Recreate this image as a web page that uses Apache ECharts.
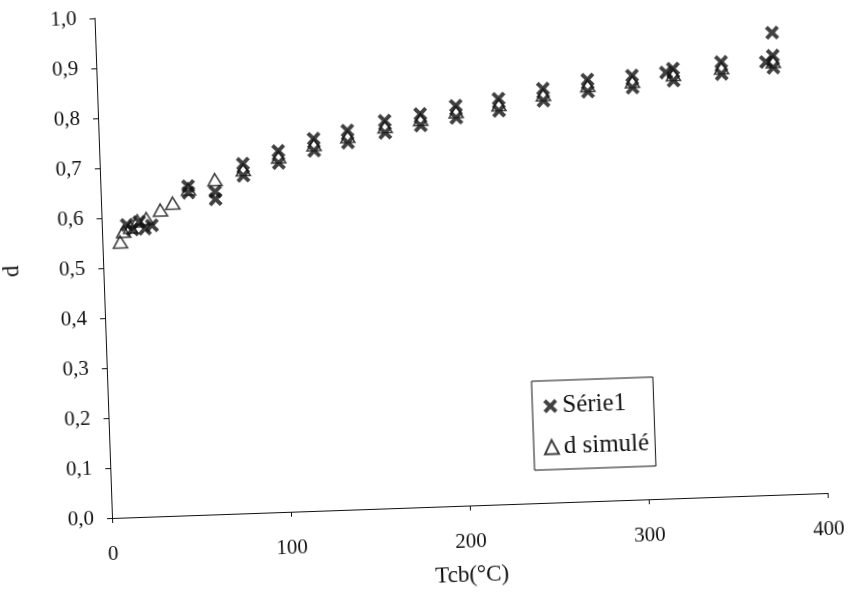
<!DOCTYPE html>
<html>
<head>
<meta charset="utf-8">
<title>d = f(Tcb)</title>
<script src="https://cdn.jsdelivr.net/npm/echarts@6/dist/echarts.min.js"></script>
<style>
  html, body { margin: 0; padding: 0; background: #fff; }
  #main {
    width: 851px;
    height: 612px;
    /* the scanned figure is tilted about 2 degrees */
    transform: rotate(-2deg);
    transform-origin: 112px 518px;
  }
</style>
</head>
<body>
<div id="main"></div>
<script>
// Série1 (measured points, x marks)
const tcbMeasured = [14, 17, 21, 24, 28, 49, 49, 64, 64, 80, 80, 100, 100, 120, 120, 139, 139,
  160, 160, 180, 180, 200, 200, 224, 224, 249, 249, 274, 274, 299, 299, 318, 322, 322,
  349, 349, 374, 378, 378, 378];
const dMeasured = [0.585, 0.575, 0.59, 0.576, 0.582, 0.658, 0.645, 0.645, 0.630, 0.699, 0.675,
  0.722, 0.698, 0.744, 0.720, 0.758, 0.734, 0.775, 0.751, 0.786, 0.763, 0.800, 0.776,
  0.811, 0.787, 0.828, 0.804, 0.843, 0.819, 0.848, 0.824, 0.852, 0.859, 0.835,
  0.869, 0.845, 0.866, 0.878, 0.854, 0.924];

// d simulé (triangles)
const tcbSimulated = [10, 12, 16, 20, 25, 33, 40, 49, 64, 80, 100, 120, 139, 160, 180, 200,
  224, 249, 274, 299, 322, 349, 378];
const dSimulated = [0.551, 0.572, 0.58, 0.592, 0.596, 0.612, 0.625, 0.652, 0.669, 0.687, 0.710,
  0.732, 0.746, 0.763, 0.775, 0.788, 0.799, 0.816, 0.831, 0.836, 0.847, 0.857, 0.866];

const xTicks = [0, 100, 200, 300, 400];
const seriesNames = ['Série1', 'd simulé'];

const font = '"Liberation Serif", "DejaVu Serif", serif';
const ink = '#111';

// filled cross, like the Excel "x" marker
const crossPath = 'path://M2,0 L5,3 L8,0 L10,2 L7,5 L10,8 L8,10 L5,7 L2,10 L0,8 L3,5 L0,2 Z';

function pairs(xs, ys) {
  return xs.map((x, i) => [x, ys[i]]);
}

const myChart = echarts.init(document.getElementById('main'));
myChart.setOption({
  backgroundColor: '#fff',
  animation: false,
  textStyle: { fontFamily: font, color: ink },
  grid: {
    left: 112,
    right: 23,
    top: 18,
    bottom: 94
  },
  legend: {
    data: seriesNames,
    orient: 'vertical',
    left: 536,
    top: 396,
    padding: [13, 6, 10, 10],
    itemGap: 16,
    itemWidth: 14,
    itemHeight: 14,
    backgroundColor: '#fff',
    borderColor: ink,
    borderWidth: 1,
    borderRadius: 0,
    textStyle: {
      fontFamily: font,
      fontSize: 25,
      color: ink,
      lineHeight: 25
    }
  },
  xAxis: {
    type: 'value',
    min: xTicks[0],
    max: xTicks[xTicks.length - 1],
    interval: 100,
    name: 'Tcb(°C)',
    nameLocation: 'middle',
    nameGap: 58,
    nameTextStyle: { fontFamily: font, fontSize: 23, color: ink },
    axisLine: { show: true, lineStyle: { color: ink, width: 1 } },
    axisTick: { show: true, inside: false, length: 5, lineStyle: { color: ink } },
    axisLabel: { fontFamily: font, fontSize: 21, color: ink, margin: 26 },
    splitLine: { show: false }
  },
  yAxis: {
    type: 'value',
    min: 0,
    max: 1,
    interval: 0.1,
    name: 'd',
    nameLocation: 'middle',
    nameGap: 80,
    nameTextStyle: { fontFamily: font, fontSize: 23, color: ink },
    axisLine: { show: true, lineStyle: { color: ink, width: 1 } },
    axisTick: { show: true, inside: false, length: 5, lineStyle: { color: ink } },
    axisLabel: {
      fontFamily: font,
      fontSize: 21,
      color: ink,
      margin: 18,
      formatter: v => v.toFixed(1).replace('.', ',')
    },
    splitLine: { show: false }
  },
  series: [
    {
      name: seriesNames[1],
      type: 'scatter',
      z: 2,
      symbol: 'triangle',
      symbolSize: [14, 12],
      itemStyle: { color: 'rgba(255,255,255,0)', borderColor: ink, borderWidth: 1.6 },
      data: pairs(tcbSimulated, dSimulated)
    },
    {
      name: seriesNames[0],
      type: 'scatter',
      z: 3,
      symbol: crossPath,
      symbolSize: 14,
      itemStyle: { color: ink },
      data: pairs(tcbMeasured, dMeasured)
    }
  ]
});
</script>
</body>
</html>
